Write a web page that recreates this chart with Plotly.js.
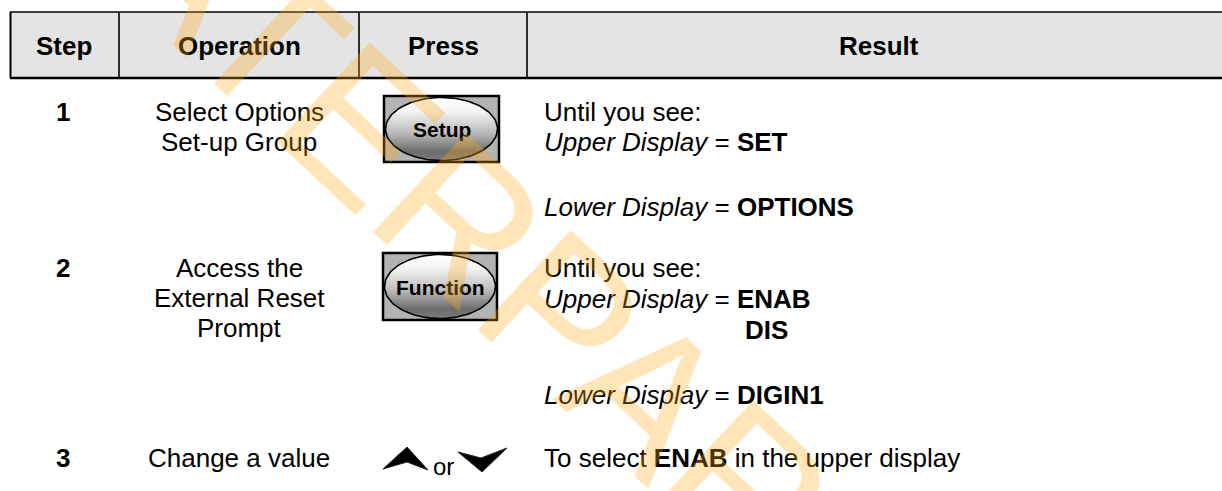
<!DOCTYPE html>
<html>
<head>
<meta charset="utf-8">
<script src="https://cdn.plot.ly/plotly-3.0.1.min.js"></script>
<style>html,body{margin:0;padding:0;background:#fff;overflow:hidden}#chart{width:1222px;height:491px}</style>
</head>
<body>
<div id="chart"></div>
<script>
// ---- content ----
const headers = ['Step', 'Operation', 'Press', 'Result'];
const steps = ['1', '2', '3'];
const operations = [
  ['Select Options', 'Set-up Group'],
  ['Access the', 'External Reset', 'Prompt'],
  ['Change a value']
];
const buttonLabels = ['Setup', 'Function'];
const arrowJoin = 'or';
const results = [
  ['Until you see:', '<i>Upper Display</i> = <b>SET</b>', '<i>Lower Display</i> = <b>OPTIONS</b>'],
  ['Until you see:', '<i>Upper Display</i> = <b>ENAB</b>', '<b>DIS</b>', '<i>Lower Display</i> = <b>DIGIN1</b>'],
  ['To select <b>ENAB</b> in the upper display']
];
const watermark = 'ATERPAR';

// ---- layout geometry ----
const W = 1222, H = 491;
const FONT = 'Liberation Sans, Arial, Helvetica, sans-serif';
const colEdges = [10, 119, 359, 527, 1230];
const headerTop = 12, headerBottom = 78;
const rowY = [112, 268, 458];
const opLineDy = 30;
const resultDy = [[0, 30, 95], [0, 31, 62, 127], [0]];
const resultDx = [[0, 0, 0], [0, 0, 201, 0], [0]];
const resultX = 542;
const buttonBoxes = [
  {x0: 384, x1: 499, y0: 96, y1: 162},
  {x0: 383, x1: 497, y0: 253, y1: 320}
];

const ann = [];
const shapes = [];
const traces = [];

// header background and borders
shapes.push({type: 'rect', layer: 'below', xref: 'x', yref: 'y', x0: colEdges[0], x1: colEdges[4], y0: headerTop, y1: headerBottom, fillcolor: '#e4e4e4', line: {width: 0}});
shapes.push({type: 'line', xref: 'x', yref: 'y', x0: colEdges[0], x1: colEdges[4], y0: headerTop, y1: headerTop, line: {color: '#000', width: 1.3}});
shapes.push({type: 'line', xref: 'x', yref: 'y', x0: colEdges[0], x1: colEdges[4], y0: headerBottom, y1: headerBottom, line: {color: '#000', width: 2.6}});
shapes.push({type: 'line', xref: 'x', yref: 'y', x0: colEdges[0] + 0.5, x1: colEdges[0] + 0.5, y0: headerTop, y1: headerBottom, line: {color: '#000', width: 2}});
for (let i = 1; i < 4; i++) {
  shapes.push({type: 'line', xref: 'x', yref: 'y', x0: colEdges[i], x1: colEdges[i], y0: headerTop, y1: headerBottom, line: {color: '#000', width: 1.6}});
}
headers.forEach((h, i) => {
  ann.push({xref: 'x', yref: 'y', x: (colEdges[i] + colEdges[i + 1]) / 2 + (i === 0 ? -0.5 : 0), y: (headerTop + headerBottom) / 2 + 1,
    text: '<b>' + h + '</b>', showarrow: false, xanchor: 'center', yanchor: 'middle',
    font: {family: FONT, size: 26, color: '#000'}});
});

// step numbers, operations and results
steps.forEach((s, r) => {
  ann.push({xref: 'x', yref: 'y', x: 63, y: rowY[r], text: '<b>' + s + '</b>', showarrow: false,
    xanchor: 'center', yanchor: 'middle', font: {family: FONT, size: 26, color: '#000'}});
  operations[r].forEach((line, k) => {
    ann.push({xref: 'x', yref: 'y', x: 239, y: rowY[r] + k * opLineDy, text: line, showarrow: false,
      xanchor: 'center', yanchor: 'middle', font: {family: FONT, size: 26, color: '#000'}});
  });
  results[r].forEach((line, k) => {
    ann.push({xref: 'x', yref: 'y', x: resultX + resultDx[r][k], y: rowY[r] + resultDy[r][k], text: line, showarrow: false,
      xanchor: 'left', yanchor: 'middle', font: {family: FONT, size: 26, color: '#000'}});
  });
});

// buttons
function ellipse(b) {
  const cx = (b.x0 + b.x1) / 2, cy = (b.y0 + b.y1) / 2;
  const rx = (b.x1 - b.x0) / 2 - 1.5, ry = (b.y1 - b.y0) / 2 - 1.5;
  const xs = [], ys = [];
  for (let k = 0; k <= 96; k++) {
    const t = 2 * Math.PI * k / 96;
    xs.push(cx + rx * Math.cos(t));
    ys.push(cy + ry * Math.sin(t));
  }
  return {xs, ys};
}
buttonLabels.forEach((lab, i) => {
  const b = buttonBoxes[i];
  shapes.push({type: 'rect', layer: 'below', xref: 'x', yref: 'y', x0: b.x0, x1: b.x1, y0: b.y0, y1: b.y1,
    fillcolor: '#b3b3b3', line: {color: '#000', width: 2.5}});
  const e = ellipse(b);
  traces.push({type: 'scatter', mode: 'lines', x: e.xs, y: e.ys, fill: 'toself',
    line: {color: '#000', width: 1.6}, hoverinfo: 'skip', showlegend: false,
    fillgradient: {type: 'vertical', start: b.y0 + 1, stop: b.y1 - 1,
      colorscale: [[0, '#ffffff'], [0.22, '#f4f4f4'], [0.55, '#bdbdbd'], [0.85, '#6c6c6c'], [1, '#7c7c7c']]}});
  ann.push({xref: 'x', yref: 'y', x: (b.x0 + b.x1) / 2, y: (b.y0 + b.y1) / 2 + 0.5, text: '<b>' + lab + '</b>', showarrow: false,
    xanchor: 'center', yanchor: 'middle', font: {family: FONT, size: 21, color: '#000'}});
});

// up / down arrow keys
shapes.push({type: 'path', xref: 'x', yref: 'y', path: 'M383,469 L407,447 L428,470 L407,462 Z', fillcolor: '#000', line: {color: '#222', width: 1}});
shapes.push({type: 'path', xref: 'x', yref: 'y', path: 'M458,452 L481,458 L507,448 L482,472 Z', fillcolor: '#000', line: {color: '#222', width: 1}});
ann.push({xref: 'x', yref: 'y', x: 443, y: 466, text: arrowJoin, showarrow: false, xanchor: 'center', yanchor: 'middle',
  font: {family: FONT, size: 24, color: '#000'}});

// watermark (on top)
ann.push({xref: 'x', yref: 'y', x: 469, y: 227, text: watermark, showarrow: false, textangle: 43,
  xanchor: 'center', yanchor: 'middle', font: {family: FONT, size: 198, color: 'rgba(255,168,20,0.3)'}});

const layout = {
  width: W, height: H,
  margin: {l: 0, r: 0, t: 0, b: 0, pad: 0},
  paper_bgcolor: '#ffffff', plot_bgcolor: '#ffffff',
  xaxis: {range: [0, W], visible: false, fixedrange: true},
  yaxis: {range: [H, 0], visible: false, fixedrange: true},
  showlegend: false,
  shapes: shapes,
  annotations: ann
};
Plotly.newPlot('chart', traces, layout, {displayModeBar: false, staticPlot: true});
</script>
</body>
</html>
